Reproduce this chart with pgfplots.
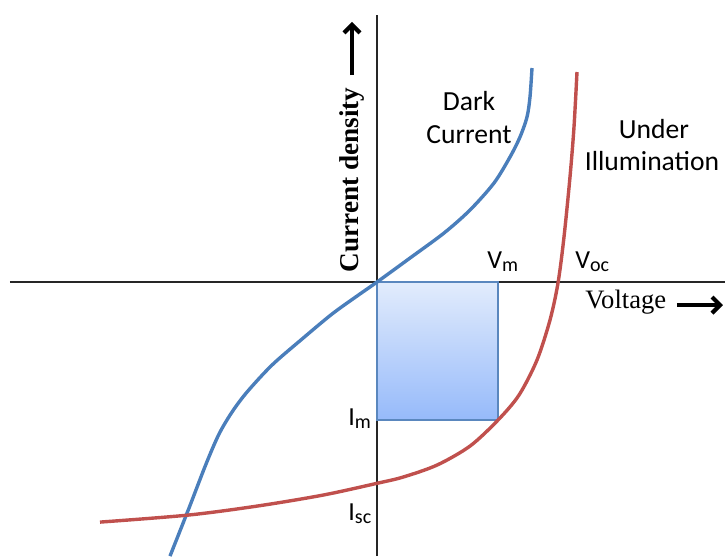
\documentclass[border=0pt]{standalone}
\usepackage{pgfplots}
\pgfplotsset{compat=1.18}
\usetikzlibrary{arrows.meta}
\usepackage{fontspec}
\newfontfamily\calibri{Carlito}
\newfontfamily\timesfont{Liberation Serif}
\definecolor{darkblue}{RGB}{74,126,187}
\definecolor{illred}{RGB}{192,80,77}
\definecolor{recttop}{RGB}{226,236,252}
\definecolor{rectbot}{RGB}{150,186,250}
\definecolor{rectedge}{RGB}{90,135,190}
\begin{document}
\begin{tikzpicture}
\begin{axis}[
  scale only axis,
  width=357.5pt, height=270.5pt,
  xmin=-367, xmax=348, ymin=-274, ymax=267,
  axis lines=middle,
  axis line style={-, line width=0.6pt, black!85},
  xtick=\empty, ytick=\empty,
  clip=false,
]
\coordinate (bl) at (axis cs:-377,-274);
\coordinate (tr) at (axis cs:348,282);
% power rectangle
\addplot[draw=rectedge, line width=0.8pt, top color=recttop, bottom color=rectbot]
  coordinates {(0,0) (121,0) (121,-138) (0,-138) (0,0)};
% dark current
\addplot[darkblue, line width=1.7pt, smooth] coordinates {
(-207,-274) (-188,-226) (-171,-182) (-158,-152) (-145,-130)
(-130,-110) (-105,-83) (-75,-57) (-45,-32) (-20,-14) (0,0) (33,24) (67,49)
(93,72) (117,99) (133,125) (143,145) (150,165) (153,185) (155,214)};
% under illumination
\addplot[illred, line width=1.7pt, smooth] coordinates {
(-277,-240) (-189,-233) (-120,-224) (-54,-213) (1,-201) (26,-195) (60,-183)
(93,-164) (121,-138) (142,-113) (160,-78) (173,-38) (181,-1) (187,45)
(193,105) (197,155) (200,210)};
% labels
\node[rotate=90, inner sep=0] at (axis cs:-25,102) {\timesfont\fontsize{13.6}{16}\selectfont\bfseries Current density};
\draw[-{Straight Barb[length=4pt,width=8pt]}, line width=2.1pt] (axis cs:-25,207) -- (axis cs:-25,260);
\node[anchor=base, inner sep=0] at (axis cs:92,172) {\calibri\fontsize{13.8}{16}\selectfont Dark};
\node[anchor=base, inner sep=0] at (axis cs:92,139) {\calibri\fontsize{13.8}{16}\selectfont Current};
\node[anchor=base, inner sep=0] at (axis cs:277,144) {\calibri\fontsize{13.8}{16}\selectfont Under};
\node[anchor=base, inner sep=0] at (axis cs:275,112) {\calibri\fontsize{13.8}{16}\selectfont Illumination};
\node[anchor=base west, inner sep=0] at (axis cs:110,14) {\calibri\fontsize{13}{16}\selectfont V\textsubscript{\fontsize{10}{12}\selectfont m}};
\node[anchor=base west, inner sep=0] at (axis cs:198,14) {\calibri\fontsize{13}{16}\selectfont V\textsubscript{\fontsize{10}{12}\selectfont oc}};
\node[anchor=base west, inner sep=0] at (axis cs:208,-26) {\timesfont\fontsize{13.3}{16}\selectfont Voltage};
\draw[-{Straight Barb[length=4pt,width=8pt]}, line width=2.1pt] (axis cs:300,-23) -- (axis cs:346,-23);
\node[anchor=base west, inner sep=0] at (axis cs:-29,-143) {\calibri\fontsize{13}{16}\selectfont I\textsubscript{\fontsize{10}{12}\selectfont m}};
\node[anchor=base west, inner sep=0] at (axis cs:-29,-238) {\calibri\fontsize{13}{16}\selectfont I\textsubscript{\fontsize{10}{12}\selectfont sc}};
\end{axis}
\pgfresetboundingbox
\path[use as bounding box] (bl) rectangle (tr);
\end{tikzpicture}
\end{document}
